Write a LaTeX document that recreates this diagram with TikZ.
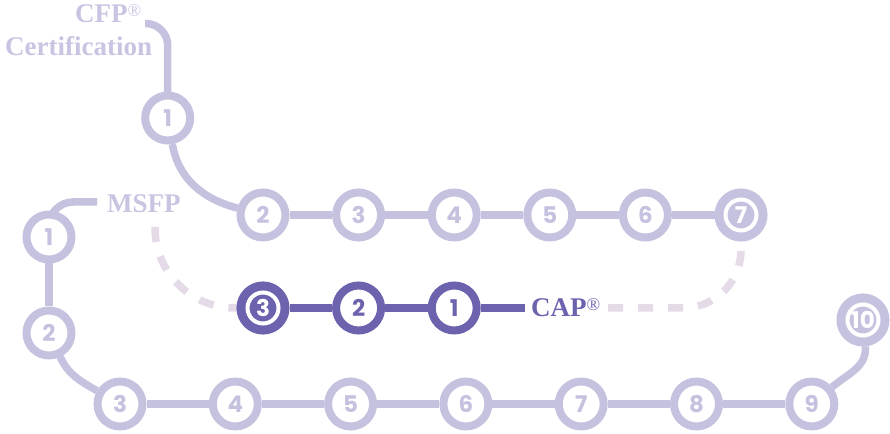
\documentclass[tikz,border=0pt]{standalone}
\usepackage{fontspec}
\usetikzlibrary{backgrounds}
\newfontfamily\numfont{Poppins}
\newfontfamily\labfont{Liberation Serif}
\definecolor{ringc}{RGB}{197,194,224}
\definecolor{darkc}{RGB}{108,99,175}
\definecolor{dashc}{RGB}{228,218,232}
\definecolor{labc}{RGB}{200,196,226}
\newcommand\regmark{\raisebox{6pt}{\mdseries\fontsize{18}{18}\selectfont ®}}
\tikzset{
  numfnt/.style={font=\numfont\bfseries\fontsize{23}{23}\selectfont},
  stepring/.style={circle, draw=#1, line width=8pt, fill=white, minimum size=45pt,
    inner sep=0pt, text=#1, numfnt},
  stepring/.default=ringc,
  finalring/.style={circle, fill=#1, draw=white, line width=4pt, minimum size=31pt,
    inner sep=0pt, outer sep=11pt, text=white, numfnt,
    preaction={draw=#1, line width=22pt}},
  finalring/.default=ringc,
  link/.style={draw=#1, line width=7.5pt},
  link/.default=ringc,
  dashlink/.style={draw=dashc, line width=7.5pt, dash pattern=on 15pt off 15pt},
  labtext/.style={inner sep=0pt, text=labc, font=\labfont\bfseries\fontsize{27}{33}\selectfont}
}
\begin{document}
\begin{tikzpicture}[x=1pt,y=1pt]
\useasboundingbox (0,0) rectangle (890,433);

% labels
\node[labtext, anchor=base west] (cfp) at (75,410) {CFP\regmark};
\node[labtext, anchor=base west] (cert) at (5,377) {Certification};
\node[labtext, anchor=base west] (msfp) at (107,220) {MSFP};
\node[labtext, text=darkc, anchor=base west] (cap) at (531,116.5) {CAP\regmark};

\coordinate (cfpend) at (145,409.5);
\coordinate (msfpend) at (97,231);
\coordinate (capend) at (525,125);
\coordinate (dl) at (155,206);
\coordinate (dr) at (608,125);
\coordinate (d7) at (741,196);

% CFP path
\node[stepring] (c1) at (167.7,315) {1};
\node[stepring] (t2) at (263,218) {2};
\node[stepring] (t3) at (358.6,218) {3};
\node[stepring] (t4) at (454.2,218) {4};
\node[stepring] (t5) at (549.8,218) {5};
\node[stepring] (t6) at (645.4,218) {6};
\node[finalring] (t7) at (741,218) {7};

% CAP path
\node[finalring=darkc] (a3) at (263,125) {3};
\node[stepring=darkc] (a2) at (358.6,125) {2};
\node[stepring=darkc] (a1) at (454.2,125) {1};

% MSFP path
\node[stepring] (m1) at (49,196) {1};
\node[stepring] (m2) at (49,100) {2};
\node[stepring] (b3) at (120,29) {3};
\node[stepring] (b4) at (235.3,29) {4};
\node[stepring] (b5) at (350.6,29) {5};
\node[stepring] (b6) at (465.9,29) {6};
\node[stepring] (b7) at (581.2,29) {7};
\node[stepring] (b8) at (696.5,29) {8};
\node[stepring] (b9) at (811.8,29) {9};
\node[finalring] (b10) at (863,113) {10};

\begin{scope}[on background layer]
  \draw[link, rounded corners=22pt] (cfpend) -| (c1.center);
  \draw[link] (c1) to[out=-80,in=165] (t2);
  \draw[link] (t2) -- (t3);
  \draw[link] (t3) -- (t4);
  \draw[link] (t4) -- (t5);
  \draw[link] (t5) -- (t6);
  \draw[link] (t6) -- (t7);
  \draw[link=darkc] (a3) -- (a2);
  \draw[link=darkc] (a2) -- (a1);
  \draw[link=darkc] (a1) -- (capend);
  \draw[link, rounded corners=24pt] (msfpend) -| (m1.center);
  \draw[link] (m1) -- (m2);
  \draw[link] (m2) to[out=-65,in=150] (b3);
  \draw[link] (b3) -- (b4);
  \draw[link] (b4) -- (b5);
  \draw[link] (b5) -- (b6);
  \draw[link] (b6) -- (b7);
  \draw[link] (b7) -- (b8);
  \draw[link] (b8) -- (b9);
  \draw[link] (b9) to[out=40,in=-85] (b10);
  \draw[dashlink, rounded corners=80pt] (dl) |- (a3.center);
\end{scope}
\draw[dashlink, rounded corners=58pt] (dr) -| (d7);
\end{tikzpicture}
\end{document}
